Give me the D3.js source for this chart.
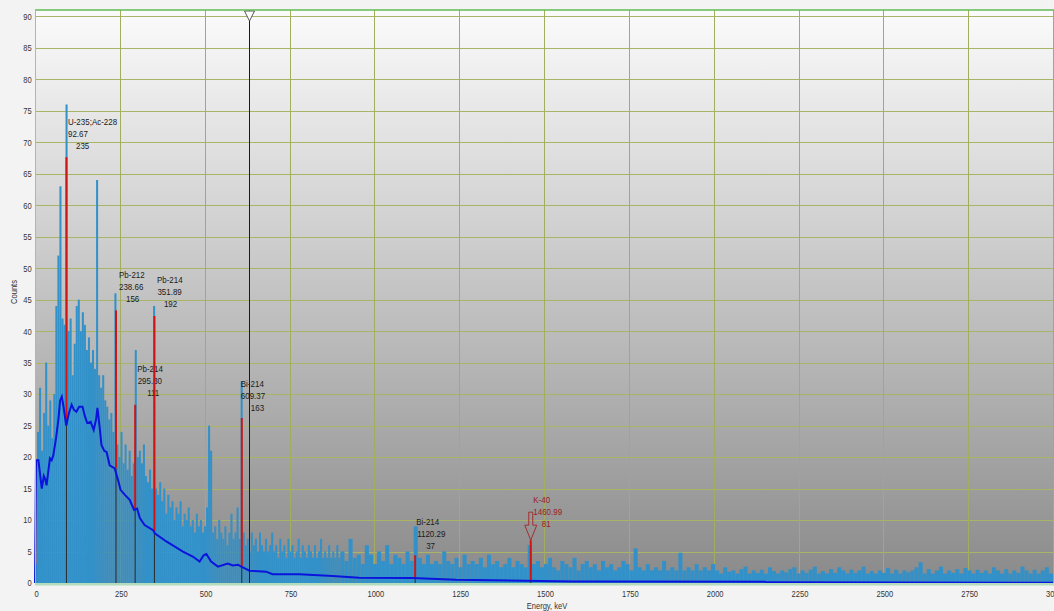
<!DOCTYPE html>
<html>
<head>
<meta charset="utf-8">
<script src="https://cdn.jsdelivr.net/npm/d3@7/dist/d3.min.js"></script>
<style>
  body { margin: 0; background: #f3f3f3; overflow: hidden; }
  text { font-family: "Liberation Sans", Arial, sans-serif; }
</style>
</head>
<body>
<div id="spectrum"></div>
<script>
// Spectrum channels, 6 keV wide starting at 0 keV
var lowStart = 0, lowStep = 6;
var lowCounts = [
  3, 24, 31, 21, 27, 35, 25, 29, 23, 30,
  44, 52, 63, 42, 41, 76, 40, 42, 33, 38,
  44, 45, 40, 43, 41, 37, 39, 35, 37, 34,
  64, 33, 31, 33, 29, 28, 26, 27, 24, 46,
  22, 20, 24, 19, 22, 18, 21, 17, 19, 37,
  20, 21, 19, 22, 17, 16, 18, 15, 44, 15,
  14, 16, 13, 15, 11, 14, 12, 13, 10, 12,
  11, 13, 9, 11, 10, 12, 9, 10, 8, 11,
  9, 10, 8, 9, 12, 25, 21, 8, 9, 7,
  10, 8, 7, 9, 6, 8, 11, 7, 8, 12,
  7, 32, 8, 6, 7, 5, 8, 6, 7, 5,
  8, 6, 5, 7, 5, 6, 8, 5, 6, 4,
  7, 5, 6, 4, 7, 5, 6, 4, 5, 7,
  4, 6, 5, 4, 6, 5, 4, 6, 4, 5,
  7, 4, 5, 4, 6, 4, 5, 4, 6, 4
];

// Spectrum channels, 12 keV wide starting at 900 keV
var highStart = 900, highStep = 12;
var highCounts = [
  5, 3.5, 7, 4, 4.5, 3, 6, 4.5, 3, 5, 3.5, 6, 3, 4.5, 4, 3, 5, 3.5, 9,
  4, 3, 4.5, 3, 3.5, 3, 5, 3.5, 3, 4, 2.5, 4.5, 3, 3.5, 3, 4, 2.5, 4.5, 3, 3.5, 2.5, 3, 4, 2.5, 3.5, 3, 2.5, 6,
  3, 3.5, 2.5, 3, 4, 2.5, 2, 3.5, 3, 2.5, 4, 2, 3, 3.5, 2.5, 3, 2, 3.5, 2.5, 3, 2, 2.5, 3.5, 3, 2,
  5.5, 2.5, 2, 3, 2, 2.5, 2, 3.5, 2, 2.5, 2, 4.8, 2, 2.5, 2, 3, 2, 2.5, 2, 3,
  2, 1.5, 2.5, 1.8, 2, 1.5, 2.2, 2.6, 1.5, 2, 1.6, 2.1, 1.5, 2.5, 1.9, 1.5, 2, 1.7, 2.2, 2.5,
  1.5, 2, 1.6, 2.1, 2.6, 1.5, 1.9, 1.5, 2.2, 1.6, 2.5, 2, 1.5, 2.1, 1.6, 2, 2.6, 1.5, 1.9, 1.5,
  2, 1.6, 2.4, 1.5, 2.1, 1.5, 2, 1.7, 2, 2.5, 3.3, 1.5, 2.2, 1.5, 2, 2.6, 1.5, 2, 1.6, 2.2,
  1.5, 2.4, 2, 1.5, 2.1, 1.6, 2, 1.5, 2.5, 2, 1.5, 2.2, 1.5, 2, 1.6, 2.6, 2, 1.5, 2.1, 1.5,
  2, 2.5, 1.5
];

// Smoothed continuum [keV, counts]
var continuum = [
  [0, 0], [3, 19.5], [10, 19.5], [20, 15], [26, 17], [30, 16.5], [34, 15.5], [44, 19.8],
  [49, 19.5], [54, 20.3], [62, 23], [69, 26], [74, 29], [79, 29.6], [84, 28], [92, 25],
  [100, 27], [108, 28.3], [115, 27.5], [122, 27.2], [130, 28], [140, 28], [147, 26.5],
  [154, 25.4], [164, 25.6], [173, 24.3], [180, 26], [184, 27.8], [190, 25], [196, 21.9],
  [204, 21], [211, 20.8], [220, 18.7], [235, 18.2], [245, 16.3], [252, 14.8], [265, 14],
  [279, 13.2], [292, 11.6], [301, 11.8], [309, 10.3], [323, 9.2], [348, 8.4], [353, 7.9],
  [387, 6.6], [436, 5], [465, 4.2], [485, 3.4], [497, 4.4], [505, 4.6], [519, 3.4],
  [539, 2.6], [568, 3.1], [583, 2.8], [598, 2.9], [608, 2.6], [632, 1.95], [681, 1.8],
  [700, 1.4], [779, 1.4], [877, 1.1], [955, 0.85], [1112, 0.8], [1240, 0.5], [1583, 0.25],
  [2150, 0.2], [2160, 0.1], [3000, 0.05]
];

// Identified peaks
var peakEnergy = [92.67, 238.66, 295.2, 351.89, 609.37, 1120.29, 1460.99];
var peakTop    = [67.6, 43.3, 28.3, 42.4, 26.2, 4.4, 6.8];
var peakBase   = [25, 18.3, 11.7, 8.2, 2.6, 0.8, 0.3];
var peakLines  = [
  ["U-235;Ac-228", "92.67", "235"],
  ["Pb-212", "238.66", "156"],
  ["Pb-214", "295.30", "111"],
  ["Pb-214", "351.89", "192"],
  ["Bi-214", "609.37", "163"],
  ["Bi-214", "1120.29", "37"],
  ["K-40", "1460.99", "81"]
];
var labelCounts = [72.7, 48.4, 33.5, 47.6, 31.1, 9.2, 12.7];
var labelDx = [[1.5, 1.5, 9.5], [3, 3, 10], [2, 2.5, 12], [2.5, 3, 9.5], [-1, -1, 9], [1, 2, 11], [2.5, 2.5, 11]];
var labelColor = ["#1a1a1a", "#1a1a1a", "#1a1a1a", "#1a1a1a", "#1a1a1a", "#1a1a1a", "#9b2020"];
var arrowPeak = 6;

var cursorEnergy = 632;
var xTicks = [0, 250, 500, 750, 1000, 1250, 1500, 1750, 2000, 2250, 2500, 2750, 3000];
var yTicks = [0, 5, 10, 15, 20, 25, 30, 35, 40, 45, 50, 55, 60, 65, 70, 75, 80, 85, 90];

// Dimensions
var width = 1054, height = 611;
var plot = {left: 35, top: 10, right: 1054, bottom: 583};
var narrow = 0.84; // condensed look of the original font

var svg = d3.select("#spectrum")
    .append("svg")
    .attr("width", width)
    .attr("height", height);

var x = d3.scaleLinear().domain([0, 3000]).range([35, 1053]);
var y = d3.scaleLinear().domain([0, 91]).range([plot.bottom, plot.top]);

// Grey gradient background
var grad = svg.append("defs").append("linearGradient")
    .attr("id", "bg").attr("x1", 0).attr("y1", 0).attr("x2", 0).attr("y2", 1);
grad.append("stop").attr("offset", "0%").attr("stop-color", "#fbfbfb");
grad.append("stop").attr("offset", "100%").attr("stop-color", "#8a8a8a");

svg.append("rect")
    .attr("x", plot.left).attr("y", plot.top)
    .attr("width", plot.right - plot.left).attr("height", plot.bottom - plot.top)
    .attr("fill", "url(#bg)");

// Grid
svg.append("g").selectAll("line")
    .data(yTicks)
    .enter().append("line")
    .attr("x1", plot.left).attr("x2", plot.right)
    .attr("y1", function (d) { return Math.round(y(d)) + 0.5; })
    .attr("y2", function (d) { return Math.round(y(d)) + 0.5; })
    .attr("stroke", "#aab466").attr("stroke-width", 1);

svg.append("g").selectAll("line")
    .data(xTicks)
    .enter().append("line")
    .attr("x1", function (d) { return Math.round(x(d)) + 0.5; })
    .attr("x2", function (d) { return Math.round(x(d)) + 0.5; })
    .attr("y1", plot.top).attr("y2", plot.bottom)
    .attr("stroke", "#a3ad60").attr("stroke-width", 1);

// Spectrum bars
var channels = lowCounts.map(function (c, i) {
    return {e: lowStart + i * lowStep, w: lowStep, c: c};
}).concat(highCounts.map(function (c, i) {
    return {e: highStart + i * highStep, w: highStep, c: c};
}));

svg.append("g").selectAll("rect")
    .data(channels)
    .enter().append("rect")
    .attr("x", function (d) { return x(d.e); })
    .attr("width", function (d) { return x(d.e + d.w) - x(d.e); })
    .attr("y", function (d) { return y(d.c); })
    .attr("height", function (d) { return y(0) - y(d.c); })
    .attr("fill", "#3391c9");

// Labels (drawn under the markers like the original)
var labels = svg.append("g");
peakLines.forEach(function (lines, i) {
    lines.forEach(function (t, j) {
        labels.append("text")
            .attr("transform", "translate(" + (x(peakEnergy[i]) + labelDx[i][j]) + "," +
                (y(labelCounts[i]) + j * 12) + ") scale(" + narrow + ",1)")
            .attr("font-size", "9.5px")
            .attr("fill", labelColor[i])
            .text(t);
    });
});

// Peak markers: dark under the continuum, red above
svg.append("g").selectAll("line")
    .data(peakEnergy)
    .enter().append("line")
    .attr("x1", function (d) { return x(d); })
    .attr("x2", function (d) { return x(d); })
    .attr("y1", y(0))
    .attr("y2", function (d, i) { return y(peakBase[i]); })
    .attr("stroke", "#2a2a2a").attr("stroke-width", 1);

svg.append("g").selectAll("line")
    .data(peakEnergy)
    .enter().append("line")
    .attr("x1", function (d) { return x(d); })
    .attr("x2", function (d) { return x(d); })
    .attr("y1", function (d, i) { return y(peakBase[i]); })
    .attr("y2", function (d, i) { return y(peakTop[i]); })
    .attr("stroke", "#d01414").attr("stroke-width", 2);

// Continuum line
svg.append("path")
    .datum(continuum)
    .attr("fill", "none")
    .attr("stroke", "#0a14dc")
    .attr("stroke-width", 2)
    .attr("d", d3.line()
        .x(function (d) { return x(d[0]); })
        .y(function (d) { return y(d[1]); }));

// K-40 arrow
var ax = x(peakEnergy[arrowPeak]), ay = y(peakTop[arrowPeak]);
svg.append("path")
    .attr("d", "M" + (ax - 2) + "," + (ay - 28) + "h4v13h4l-6,15l-6,-15h4z")
    .attr("fill", "none")
    .attr("stroke", "#a03030")
    .attr("stroke-width", 1);

// Cursor
var cx = Math.round(x(cursorEnergy)) + 0.5;
svg.append("line")
    .attr("x1", cx).attr("x2", cx)
    .attr("y1", plot.top).attr("y2", plot.bottom)
    .attr("stroke", "#1a1a1a").attr("stroke-width", 1);
svg.append("path")
    .attr("d", "M" + (cx - 5) + "," + (plot.top + 1) + "h10l-5,10z")
    .attr("fill", "#ffffff")
    .attr("stroke", "#555").attr("stroke-width", 1);

// Plot frame
svg.append("line")
    .attr("x1", plot.left).attr("x2", plot.right)
    .attr("y1", plot.top).attr("y2", plot.top)
    .attr("stroke", "#62bb55").attr("stroke-width", 1.5);
svg.append("rect")
    .attr("x", plot.left).attr("y", plot.bottom)
    .attr("width", plot.right - plot.left).attr("height", 2.5)
    .attr("fill", "#b2dcbc");
svg.append("line")
    .attr("x1", plot.left + 0.5).attr("x2", plot.left + 0.5)
    .attr("y1", plot.top).attr("y2", plot.bottom)
    .attr("stroke", "#dba4a4").attr("stroke-width", 1);

// Axes
var yAxis = svg.append("g")
    .attr("transform", "translate(" + plot.left + ",0)")
    .call(d3.axisLeft(y).tickValues(yTicks).tickSize(0).tickPadding(4));
yAxis.select(".domain").remove();
yAxis.selectAll("text").attr("font-size", "9px").attr("fill", "#333")
    .attr("transform", "scale(" + narrow + ",1)");

var xAxis = svg.append("g")
    .attr("transform", "translate(1," + plot.bottom + ")")
    .call(d3.axisBottom(x).tickValues(xTicks).tickFormat(d3.format("d")).tickSize(0).tickPadding(8));
xAxis.select(".domain").remove();
xAxis.selectAll("text").attr("font-size", "9px").attr("fill", "#333")
    .attr("transform", "scale(" + narrow + ",1)");

svg.append("text")
    .attr("transform", "translate(17," + 292 + ") rotate(-90) scale(" + narrow + ",1)")
    .attr("text-anchor", "middle")
    .attr("font-size", "9px")
    .attr("fill", "#333")
    .text("Counts");

svg.append("text")
    .attr("transform", "translate(547,609) scale(" + narrow + ",1)")
    .attr("text-anchor", "middle")
    .attr("font-size", "9px")
    .attr("fill", "#333")
    .text("Energy, keV");
</script>
</body>
</html>
